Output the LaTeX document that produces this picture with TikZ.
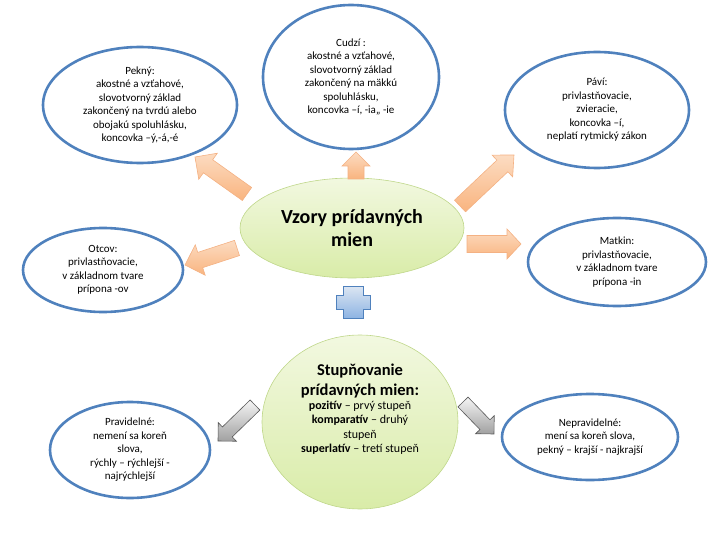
\documentclass[tikz,border=0pt]{standalone}
\usepackage{fontspec}
\setmainfont{Carlito}
\usetikzlibrary{shapes.geometric,calc}

\definecolor{ringblue}{HTML}{4F81BD}
\definecolor{leafhi}{HTML}{F2F8E0}
\definecolor{leaflo}{HTML}{D9ECA8}
\definecolor{leafrim}{HTML}{BFD78A}
\definecolor{peachhi}{HTML}{FCDCC2}
\definecolor{peachlo}{HTML}{F9B47F}
\definecolor{peachrim}{HTML}{F4B183}
\definecolor{greyhi}{HTML}{F5F5F5}
\definecolor{greylo}{HTML}{A0A0A0}
\definecolor{greyrim}{HTML}{595959}
\definecolor{plushi}{HTML}{DCE6F2}
\definecolor{pluslo}{HTML}{8EB4E3}

\tikzset{
  vzor/.style={ellipse, draw=ringblue, line width=2.6pt, fill=white, inner sep=0pt,
    align=center, font=\fontsize{11}{13.5}\selectfont},
  hub/.style={ellipse, draw=leafrim, line width=0.6pt, top color=leafhi, bottom color=leaflo,
    inner sep=0pt, align=center},
  peacharrow/.style={draw=peachrim, line width=0.6pt, top color=peachhi, bottom color=peachlo},
  greyarrow/.style={draw=greyrim, line width=0.6pt, top color=greyhi, bottom color=greylo},
}

% block arrow: style, tail, tip, shaft half width, head half width, head length
\newcommand\blockarrow[6]{%
  \draw[#1] ($(#2)!#4!90:(#3)$) -- ($(#3)!#6!(#2)!#4!-90:(#2)$) -- ($(#3)!#6!(#2)!#5!-90:(#2)$) -- (#3)
    -- ($(#3)!#6!(#2)!#5!90:(#2)$) -- ($(#3)!#6!(#2)!#4!90:(#2)$) -- ($(#2)!#4!-90:(#3)$) -- cycle;}

\newcommand\bigbold{\fontsize{16.5}{20}\selectfont\bfseries}

\begin{document}
\begin{tikzpicture}[x=1pt,y=-1pt]
  \useasboundingbox (0,0) rectangle (720,540);

  % the patterns
  \node[vzor, minimum width=194, minimum height=116] (pekny) at (140,105)
    {Pekný:\\akostné a vzťahové,\\slovotvorný základ\\zakončený na tvrdú alebo\\obojakú spoluhlásku,\\koncovka –ý,-á,-é};
  \node[vzor, minimum width=176, minimum height=144] (cudzi) at (351,77)
    {Cudzí :\\akostné a vzťahové,\\slovotvorný základ\\zakončený na mäkkú\\spoluhlásku,\\koncovka –í, -ia,, -ie};
  \node[vzor, minimum width=184, minimum height=116] (pavi) at (597,110)
    {Páví:\\privlastňovacie,\\zvieracie,\\koncovka –í,\\neplatí rytmický zákon};
  \node[vzor, minimum width=160, minimum height=84] (otcov) at (103,270)
    {Otcov:\\privlastňovacie,\\v základnom tvare\\prípona -ov};
  \node[vzor, minimum width=178, minimum height=88] (matkin) at (617,262)
    {Matkin:\\privlastňovacie,\\v základnom tvare\\prípona -in};

  \node[hub, minimum width=224, minimum height=100, font=\fontsize{20}{23}\selectfont\bfseries]
    (vzory) at (352,228) {Vzory prídavných\\mien};

  % plus sign
  \coordinate (plus) at (353,302);
  \draw[draw=ringblue, line width=0.5pt, top color=plushi, bottom color=pluslo, shift={(plus)}]
    (-10,-16) -- (10,-16) -- (10,-7) -- (17,-7) -- (17,7) -- (10,7) -- (10,16)
    -- (-10,16) -- (-10,7) -- (-17,7) -- (-17,-7) -- (-10,-7) -- cycle;

  % comparison
  \node[hub, minimum width=196, minimum height=174] (stup) at (360,422) {};
  \node[align=center, font=\fontsize{12}{14.3}\selectfont] (stuptext) at ([yshift=13]stup)
    {{\bigbold Stupňovanie}\\[5.7pt]{\bigbold prídavných mien:}\\
     \textbf{pozitív} – prvý stupeň\\\textbf{komparatív} – druhý\\stupeň\\
     \textbf{superlatív} – tretí stupeň};

  \node[vzor, minimum width=160, minimum height=96] (prav) at (130,450)
    {Pravidelné:\\nemení sa koreň\\slova,\\rýchly – rýchlejší -\\najrýchlejší};
  \node[vzor, minimum width=176, minimum height=86] (neprav) at (590,437)
    {Nepravidelné:\\mení sa koreň slova,\\pekný – krajší - najkrajší};

  % arrow ends
  \coordinate (cudT) at (356,179);  \coordinate (cudH) at (356,152);
  \coordinate (pekT) at (247,194);  \coordinate (pekH) at (195,157);
  \coordinate (otcT) at (237,248);  \coordinate (otcH) at (185,265);
  \coordinate (pavT) at (460,206);  \coordinate (pavH) at (514,155);
  \coordinate (matT) at (467,244);  \coordinate (matH) at (521,244);
  \coordinate (pravT) at (255,405); \coordinate (pravH) at (218,441);
  \coordinate (nepT) at (463,402);  \coordinate (nepH) at (494,434);

  \blockarrow{peacharrow}{cudT}{cudH}{8pt}{14pt}{14pt}
  \blockarrow{peacharrow}{pekT}{pekH}{8pt}{16pt}{16pt}
  \blockarrow{peacharrow}{otcT}{otcH}{8pt}{16pt}{16pt}
  \blockarrow{peacharrow}{pavT}{pavH}{8pt}{15pt}{16pt}
  \blockarrow{peacharrow}{matT}{matH}{8.5pt}{15pt}{14pt}
  \blockarrow{greyarrow}{pravT}{pravH}{7pt}{13pt}{13pt}
  \blockarrow{greyarrow}{nepT}{nepH}{7pt}{13pt}{13pt}
\end{tikzpicture}
\end{document}
